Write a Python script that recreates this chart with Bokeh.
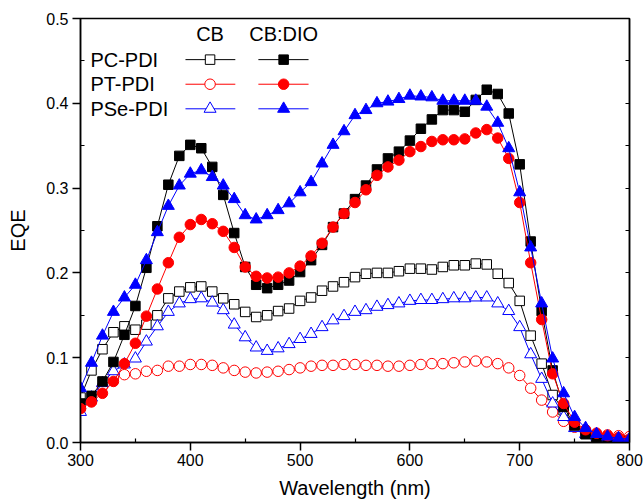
from bokeh.plotting import figure
from bokeh.models import LinearAxis, FixedTicker, Range1d, NumeralTickFormatter
from bokeh.core.properties import value
from bokeh.embed import file_html
from bokeh.resources import INLINE

# ---------------- data ----------------
wavelength = list(range(300, 801, 10))

pc_cb = [0.053, 0.085, 0.110, 0.130, 0.137, 0.133, 0.139, 0.150, 0.170, 0.178,
         0.183, 0.184, 0.178, 0.170, 0.163, 0.154, 0.148, 0.150, 0.155, 0.158,
         0.167, 0.171, 0.179, 0.184, 0.189, 0.195, 0.199, 0.200, 0.200, 0.202,
         0.205, 0.205, 0.204, 0.207, 0.209, 0.209, 0.211, 0.210, 0.199, 0.188,
         0.167, 0.126, 0.093, 0.056, 0.038, 0.019, 0.010, 0.003, 0.003, 0.002,
         0.002]
pc_dio = [0.046, 0.055, 0.072, 0.095, 0.127, 0.161, 0.206, 0.255, 0.304, 0.338,
          0.351, 0.347, 0.325, 0.292, 0.247, 0.207, 0.186, 0.182, 0.186, 0.191,
          0.201, 0.215, 0.233, 0.254, 0.270, 0.287, 0.303, 0.322, 0.335, 0.343,
          0.356, 0.370, 0.381, 0.392, 0.392, 0.390, 0.404, 0.416, 0.411, 0.388,
          0.328, 0.237, 0.155, 0.085, 0.042, 0.020, 0.010, 0.004, 0.003, 0.002,
          0.002]
pt_cb = [0.040, 0.048, 0.066, 0.076, 0.080, 0.081, 0.084, 0.085, 0.090, 0.090,
         0.092, 0.092, 0.091, 0.088, 0.085, 0.083, 0.082, 0.083, 0.084, 0.086,
         0.088, 0.090, 0.091, 0.091, 0.092, 0.092, 0.091, 0.091, 0.090, 0.090,
         0.091, 0.092, 0.093, 0.093, 0.094, 0.095, 0.096, 0.095, 0.093, 0.088,
         0.079, 0.064, 0.050, 0.036, 0.025, 0.018, 0.012, 0.010, 0.009, 0.008,
         0.007]
pt_dio = [0.040, 0.048, 0.058, 0.072, 0.093, 0.117, 0.149, 0.181, 0.212, 0.242,
          0.257, 0.263, 0.258, 0.249, 0.230, 0.207, 0.196, 0.194, 0.195, 0.200,
          0.208, 0.220, 0.235, 0.254, 0.270, 0.283, 0.298, 0.315, 0.325, 0.333,
          0.343, 0.349, 0.355, 0.357, 0.357, 0.358, 0.365, 0.369, 0.359, 0.335,
          0.283, 0.212, 0.145, 0.081, 0.046, 0.024, 0.015, 0.011, 0.008, 0.006,
          0.004]
pse_cb = [0.036, 0.053, 0.070, 0.084, 0.092, 0.099, 0.119, 0.137, 0.154, 0.164,
          0.169, 0.170, 0.165, 0.156, 0.139, 0.124, 0.112, 0.108, 0.111, 0.116,
          0.122, 0.128, 0.136, 0.144, 0.149, 0.154, 0.156, 0.160, 0.162, 0.164,
          0.167, 0.168, 0.168, 0.169, 0.170, 0.170, 0.171, 0.171, 0.164, 0.155,
          0.136, 0.104, 0.075, 0.046, 0.030, 0.017, 0.010, 0.007, 0.005, 0.004,
          0.003]
pse_dio = [0.064, 0.094, 0.126, 0.154, 0.171, 0.186, 0.215, 0.248, 0.279, 0.303,
           0.317, 0.321, 0.313, 0.303, 0.287, 0.268, 0.263, 0.268, 0.274, 0.282,
           0.295, 0.307, 0.329, 0.351, 0.367, 0.386, 0.392, 0.400, 0.402, 0.405,
           0.409, 0.408, 0.407, 0.403, 0.403, 0.403, 0.403, 0.396, 0.377, 0.347,
           0.295, 0.230, 0.164, 0.099, 0.058, 0.030, 0.017, 0.010, 0.007, 0.005,
           0.004]

x_ticks = [300, 400, 500, 600, 700, 800]
x_minor = [350, 450, 550, 650, 750]
y_ticks = [0.0, 0.1, 0.2, 0.3, 0.4, 0.5]
y_minor = [0.05, 0.15, 0.25, 0.35, 0.45]

materials = ["PC-PDI", "PT-PDI", "PSe-PDI"]
solvents = ["CB", "CB:DIO"]

# ---------------- styling ----------------
FONT = "Liberation Sans"
colors = {"PC-PDI": "black", "PT-PDI": "#ff0000", "PSe-PDI": "#0000ff"}
markers = {"PC-PDI": ("square", 9.5), "PT-PDI": ("circle", 10.5), "PSe-PDI": ("triangle", 12)}
series = {
    ("PC-PDI", "CB"): pc_cb, ("PT-PDI", "CB"): pt_cb, ("PSe-PDI", "CB"): pse_cb,
    ("PC-PDI", "CB:DIO"): pc_dio, ("PT-PDI", "CB:DIO"): pt_dio, ("PSe-PDI", "CB:DIO"): pse_dio,
}

p = figure(width=643, height=501, output_backend="svg", toolbar_location=None,
           x_range=Range1d(300, 800), y_range=Range1d(0, 0.5),
           min_border_left=80, min_border_right=14, min_border_top=18, min_border_bottom=59)
p.xgrid.visible = False
p.ygrid.visible = False
p.outline_line_color = "black"
p.outline_line_width = 1.5
p.background_fill_color = "white"
p.border_fill_color = "white"


def style_axis(ax, label):
    ax.axis_label = label
    ax.axis_label_text_font = FONT
    ax.axis_label_text_font_size = "20px"
    ax.axis_label_text_font_style = "normal"
    ax.axis_label_text_color = "black"
    ax.major_label_text_font = FONT
    ax.major_label_text_font_size = "16px"
    ax.major_label_text_color = "black"
    ax.axis_line_width = 1.5
    ax.axis_line_color = "black"
    ax.major_tick_line_color = "black"
    ax.minor_tick_line_color = "black"
    ax.major_tick_line_width = 1.5
    ax.minor_tick_line_width = 1.2
    ax.major_tick_out = 8
    ax.major_tick_in = 0
    ax.minor_tick_out = 0
    ax.minor_tick_in = 4


style_axis(p.xaxis[0], "Wavelength (nm)")
style_axis(p.yaxis[0], "EQE")
p.xaxis[0].ticker = FixedTicker(ticks=x_ticks, minor_ticks=x_minor)
p.yaxis[0].ticker = FixedTicker(ticks=y_ticks, minor_ticks=y_minor)
p.yaxis[0].formatter = NumeralTickFormatter(format="0.0")
p.xaxis[0].major_label_standoff = 3
p.xaxis[0].axis_label_standoff = 8
p.yaxis[0].major_label_standoff = 4
p.yaxis[0].axis_label_standoff = 14

right = LinearAxis(ticker=FixedTicker(ticks=y_ticks, minor_ticks=y_minor),
                   major_label_overrides={t: "" for t in y_ticks},
                   axis_line_width=1.5,
                   major_tick_in=4, major_tick_out=0, minor_tick_in=4, minor_tick_out=0,
                   major_label_standoff=0)
p.add_layout(right, "right")

# ---------------- data series ----------------
for solvent in solvents:
    for mat in materials:
        col = colors[mat]
        mk, sz = markers[mat]
        ys = series[(mat, solvent)]
        fill = "white" if solvent == "CB" else col
        p.line(wavelength, ys, line_color=col, line_width=1)
        p.scatter(wavelength, ys, marker=mk, size=sz, line_color=col, line_width=1,
                  fill_color=fill)

# ---------------- legend (layout positions, in data units) ----------------
leg_row_y = [0.4515, 0.4225, 0.3935]
leg_text_x = 309
leg_head_y = 0.482
leg_cols = {"CB": (395.6, 418.0, 441.0), "CB:DIO": (462.0, 485.0, 507.7)}

p.text(x=[leg_text_x] * 3, y=leg_row_y, text=materials, text_font=value(FONT),
       text_font_size="20px", text_baseline="middle", text_align="left", text_color="black")
p.text(x=[leg_cols[s][1] for s in solvents], y=[leg_head_y] * 2, text=solvents,
       text_font=value(FONT), text_font_size="20px", text_baseline="middle",
       text_align="center", text_color="black")
for solvent in solvents:
    x0, xm, x1 = leg_cols[solvent]
    for mat, yy in zip(materials, leg_row_y):
        col = colors[mat]
        mk, sz = markers[mat]
        fill = "white" if solvent == "CB" else col
        p.line([x0, x1], [yy, yy], line_color=col, line_width=1)
        p.scatter([xm], [yy], marker=mk, size=sz, line_color=col, line_width=1,
                  fill_color=fill)

open("out.html", "w").write(file_html(p, INLINE))
